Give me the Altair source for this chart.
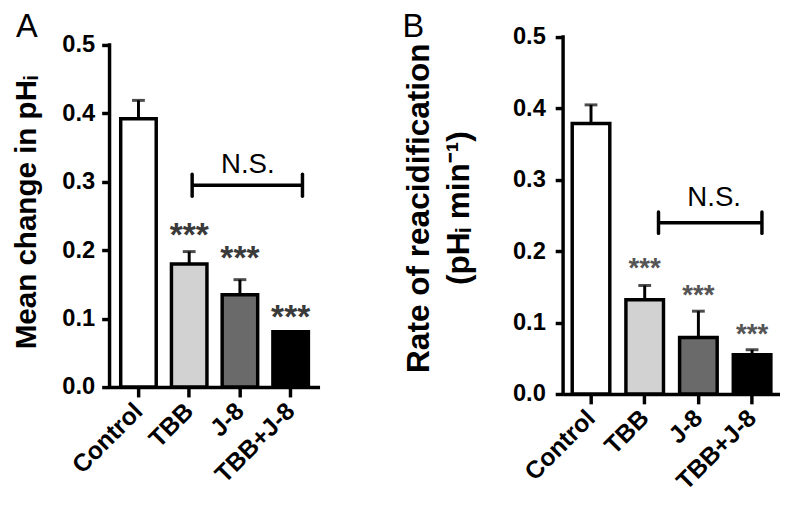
import altair as alt
import pandas as pd

FONT = "Liberation Sans"

groups = ["Control", "TBB", "J-8", "TBB+J-8"]
bar_colors = ["#ffffff", "#d2d2d2", "#6a6a6a", "#000000"]
star_groups = ["TBB", "J-8", "TBB+J-8"]

# Panel A: mean change in pHi
a_mean = [0.392, 0.180, 0.135, 0.081]
a_err = [0.419, 0.198, 0.157, 0.081]
a_star_y = [0.230, 0.197, 0.111]
a_bracket_y = 0.295
a_ns_y = 0.313

# Panel B: rate of reacidification
b_mean = [0.379, 0.132, 0.079, 0.055]
b_err = [0.405, 0.152, 0.116, 0.062]
b_star_y = [0.184, 0.147, 0.092]
b_bracket_y = 0.240
b_ns_y = 0.263

y_ticks = [0.0, 0.1, 0.2, 0.3, 0.4, 0.5]
y_axis_span = [0.0, 0.5]


def make_panel(mean, err, star_y, bracket_y, cap, ns_y, ns_dx, off1, off2,
               ytitle, letter, lx, ly, width, height, y_top, pad_outer, title_pad,
               label_pad, title_y, title_size, star_color, star_size):
    df = pd.DataFrame({"group": groups, "mean": mean, "err": err, "fill": bar_colors})
    sdf = pd.DataFrame({"group": star_groups, "sy": star_y, "t": ["***"] * len(star_groups)})
    bdf = pd.DataFrame({"g1": ["TBB"], "g2": ["TBB+J-8"], "gm": ["J-8"],
                        "by": [bracket_y], "lo": [bracket_y - cap], "hi": [bracket_y + cap],
                        "ny": [ns_y], "nt": ["N.S."]})
    adf = pd.DataFrame({"a0": [y_axis_span[0]], "a1": [y_axis_span[1]]})
    ldf = pd.DataFrame({"t": [letter]})

    xs = alt.Scale(domain=groups, paddingInner=0.3, paddingOuter=pad_outer)
    ys = alt.Scale(domain=[0, y_top], nice=False)
    xax = alt.Axis(title=None, labelAngle=-45, labelAlign="right", labelBaseline="middle",
                   tickSize=10, labelPadding=10, labelOverlap=False, labelFontSize=25)
    ykw = dict(values=y_ticks, format=".1f", title=ytitle, titlePadding=title_pad,
               labelPadding=label_pad, tickSize=8, domain=False, titleFontSize=title_size)
    if title_y is not None:
        ykw["titleY"] = title_y
    yax = alt.Axis(**ykw)

    def X(f):
        return alt.X(f, type="nominal", scale=xs, axis=xax, sort=groups)

    def Y(f):
        return alt.Y(f, type="quantitative", scale=ys, axis=yax)

    bars = alt.Chart(df).mark_bar(stroke="black", strokeWidth=3.5).encode(
        x=X("group"), y=Y("mean"), fill=alt.Fill("fill:N", scale=None))
    errs = alt.Chart(df).mark_rule(color="black", strokeWidth=3).encode(
        x=X("group"), y=Y("mean"), y2="err:Q")
    caps = alt.Chart(df).mark_tick(color="black", size=13, thickness=3).encode(
        x=X("group"), y=Y("err"))
    stars = alt.Chart(sdf).mark_text(font=FONT, fontSize=star_size, fontWeight="bold",
                                     color=star_color, baseline="middle", dy=7).encode(
        x=X("group"), y=Y("sy"), text="t:N")
    hline = alt.Chart(bdf).mark_rule(color="black", strokeWidth=3.5, xOffset=off1, x2Offset=off2).encode(
        x=X("g1"), x2="g2:N", y=Y("by"))
    lcap = alt.Chart(bdf).mark_rule(color="black", strokeWidth=3.5, xOffset=off1, strokeCap="round").encode(
        x=X("g1"), y=Y("lo"), y2="hi:Q")
    rcap = alt.Chart(bdf).mark_rule(color="black", strokeWidth=3.5, xOffset=off2, strokeCap="round").encode(
        x=X("g2"), y=Y("lo"), y2="hi:Q")
    ns = alt.Chart(bdf).mark_text(font=FONT, fontSize=28, color="black", baseline="alphabetic",
                                  dx=ns_dx).encode(x=X("gm"), y=Y("ny"), text="nt:N")
    yline = alt.Chart(adf).mark_rule(color="black", strokeWidth=3.5, strokeCap="square").encode(
        x=alt.value(0), y=Y("a0"), y2="a1:Q")
    lab = alt.Chart(ldf).mark_text(font=FONT, fontSize=33, color="black", align="left",
                                   baseline="alphabetic").encode(
        text="t:N", x=alt.value(lx), y=alt.value(ly))
    return alt.layer(bars, errs, caps, stars, hline, lcap, rcap, ns, yline, lab).properties(
        width=width, height=height)


panel_a = make_panel(a_mean, a_err, a_star_y, a_bracket_y, 0.016, a_ns_y, 8, 3, 12,
                     "Mean change in pHᵢ", "A", -95, 0, 213, 355, 0.5115, 0.22, 21, 7, None, 30,
                     "#3a3a3a", 34)
panel_b = make_panel(b_mean, b_err, b_star_y, b_bracket_y, 0.015, b_ns_y, 16, 14, 10,
                     ["Rate of reacidification", "(pHᵢ min⁻¹)"], "B", -163, 0, 220, 362, 0.5,
                     0.17, 38, 10, 173, 32, "#555555", 28)

chart = alt.hconcat(panel_a, panel_b, spacing=84).properties(
    padding={"left": 3, "top": 0, "right": 0, "bottom": 0}
).configure_view(
    stroke=None
).configure_axis(
    grid=False, domainColor="black", domainWidth=3.5, tickColor="black", tickWidth=3.5,
    labelFont=FONT, labelFontSize=24, labelFontWeight="bold", labelColor="black",
    titleFont=FONT, titleFontSize=30, titleFontWeight="bold", titleColor="black",
    titleLineHeight=40
)

chart.save("out.html", embed_options={"renderer": "svg", "actions": False})
